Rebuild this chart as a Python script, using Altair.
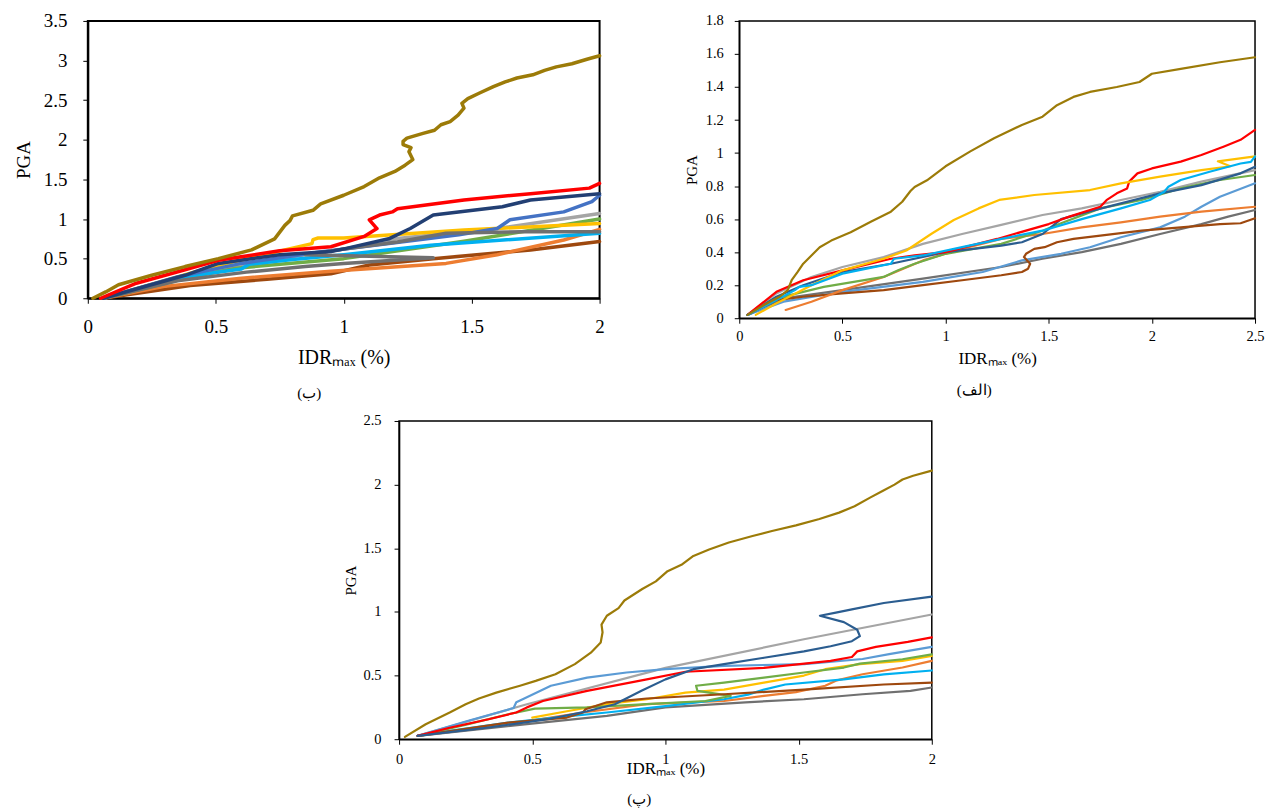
import altair as alt
import pandas as pd

FONT = "Liberation Serif, Times New Roman, serif"

# ---------------- Panel (ب) : top-left ----------------
b_olive_x = [0.02, 0.07, 0.12, 0.25, 0.38, 0.51, 0.64, 0.73, 0.77, 0.79, 0.80, 0.88, 0.91, 1.0, 1.08, 1.14, 1.2, 1.24, 1.27, 1.255,
             1.263, 1.232, 1.232, 1.247, 1.31, 1.355, 1.38, 1.416, 1.447, 1.47, 1.462, 1.485, 1.531, 1.585, 1.631, 1.677, 1.739, 1.785, 1.831, 1.892,
             1.954, 2.0]
b_olive_y = [0, 0.08, 0.17, 0.29, 0.40, 0.50, 0.61, 0.75, 0.92, 0.98, 1.04, 1.11, 1.19, 1.30, 1.41, 1.52, 1.60, 1.68, 1.75, 1.85,
             1.90, 1.94, 1.98, 2.02, 2.08, 2.12, 2.19, 2.23, 2.31, 2.40, 2.46, 2.52, 2.59, 2.67, 2.73, 2.78, 2.82, 2.875, 2.92, 2.96,
             3.02, 3.06]
b_red_x = [0.05, 0.19, 0.38, 0.51, 0.75, 0.95, 1.08, 1.13, 1.10, 1.14, 1.19, 1.21, 1.47, 1.73, 1.96, 2.0]
b_red_y = [0, 0.19, 0.36, 0.48, 0.60, 0.65, 0.78, 0.88, 0.99, 1.05, 1.09, 1.13, 1.24, 1.32, 1.39, 1.45]
b_navy_x = [0.06, 0.38, 0.51, 0.75, 0.95, 1.01, 1.18, 1.26, 1.35, 1.62, 1.73, 2.0]
b_navy_y = [0, 0.29, 0.44, 0.55, 0.59, 0.63, 0.755, 0.88, 1.05, 1.155, 1.24, 1.32]
b_blue_x = [0.06, 0.35, 0.6, 0.9, 1.2, 1.45, 1.6, 1.65, 1.86, 1.97, 2.0]
b_blue_y = [0, 0.27, 0.44, 0.58, 0.70, 0.80, 0.88, 0.99, 1.09, 1.22, 1.30]
b_lgray_x = [0.06, 0.4, 0.7, 1.0, 1.21, 1.6, 2.0]
b_lgray_y = [0, 0.3, 0.48, 0.62, 0.755, 0.88, 1.07]
b_yellow_x = [0.06, 0.49, 0.876, 0.88, 0.90, 1.0, 1.47, 2.0]
b_yellow_y = [0, 0.40, 0.69, 0.74, 0.76, 0.76, 0.86, 0.944]
b_green_x = [0.06, 0.38, 0.58, 1.0, 1.47, 2.0]
b_green_y = [0, 0.25, 0.38, 0.50, 0.72, 1.0]
b_cyan_x = [0.06, 0.4, 0.6, 0.63, 0.8, 1.0, 1.34, 2.0]
b_cyan_y = [0, 0.28, 0.37, 0.43, 0.49, 0.55, 0.67, 0.82]
b_dgray_x = [0.06, 0.35, 0.62, 0.85, 1.0, 1.35, 1.1, 0.85, 1.0, 1.21, 1.40, 1.7, 2.0]
b_dgray_y = [0, 0.22, 0.33, 0.40, 0.44, 0.51, 0.53, 0.55, 0.62, 0.71, 0.82, 0.84, 0.84]
b_orange_x = [0.06, 0.3, 0.59, 0.95, 1.4, 1.6, 1.86, 2.0]
b_orange_y = [0, 0.15, 0.25, 0.34, 0.44, 0.55, 0.735, 0.87]
b_brown_x = [0.06, 0.4, 0.7, 0.95, 1.10, 1.35, 1.73, 2.0]
b_brown_y = [0, 0.16, 0.24, 0.31, 0.42, 0.50, 0.61, 0.715]

# ---------------- Panel (الف) : top-right ----------------
a_olive_x = [0.04, 0.12, 0.196, 0.235, 0.254, 0.283, 0.31, 0.35, 0.39, 0.446, 0.54, 0.64, 0.735, 0.79, 0.83, 0.85, 0.91, 1.0, 1.12, 1.235,
             1.37, 1.47, 1.54, 1.62, 1.70, 1.83, 1.94, 2.0, 2.14, 2.33, 2.5]
a_olive_y = [0.02, 0.08, 0.13, 0.17, 0.23, 0.28, 0.33, 0.38, 0.43, 0.47, 0.52, 0.585, 0.645, 0.705, 0.77, 0.795, 0.835, 0.92, 1.01, 1.09,
             1.17, 1.22, 1.29, 1.34, 1.37, 1.40, 1.43, 1.48, 1.51, 1.55, 1.58]
a_red_x = [0.04, 0.18, 0.31, 0.50, 0.735, 0.85, 1.0, 1.25, 1.5, 1.6, 1.75, 1.78, 1.83, 1.88, 1.89, 1.93, 2.0, 2.14, 2.24, 2.35, 2.43, 2.5]
a_red_y = [0.02, 0.16, 0.23, 0.29, 0.36, 0.38, 0.40, 0.48, 0.57, 0.615, 0.675, 0.715, 0.756, 0.786, 0.827, 0.877, 0.907, 0.948, 0.988, 1.04, 1.08, 1.14]
a_yellow_x = [0.08, 0.18, 0.35, 0.5, 0.7, 0.81, 0.93, 1.04, 1.16, 1.26, 1.43, 1.70, 1.85, 2.04, 2.24, 2.38, 2.32, 2.5]
a_yellow_y = [0.02, 0.09, 0.2, 0.29, 0.36, 0.41, 0.51, 0.595, 0.665, 0.716, 0.746, 0.776, 0.816, 0.857, 0.897, 0.92, 0.95, 0.98]
a_cyan_x = [0.04, 0.18, 0.27, 0.29, 0.35, 0.5, 0.735, 0.75, 0.89, 1.08, 1.27, 1.47, 1.66, 1.85, 1.99, 2.06, 2.08, 2.14, 2.28, 2.43, 2.48, 2.5]
a_cyan_y = [0.02, 0.11, 0.17, 0.19, 0.2, 0.27, 0.33, 0.36, 0.38, 0.43, 0.48, 0.53, 0.6, 0.665, 0.716, 0.766, 0.796, 0.837, 0.887, 0.937, 0.947, 0.98]
a_navy_x = [0.04, 0.18, 0.31, 0.5, 0.735, 1.0, 1.27, 1.37, 1.47, 1.56, 1.66, 1.85, 2.04, 2.24, 2.43, 2.5]
a_navy_y = [0.02, 0.13, 0.2, 0.28, 0.33, 0.40, 0.44, 0.46, 0.51, 0.6, 0.635, 0.695, 0.756, 0.806, 0.877, 0.917]
a_lgray_x = [0.04, 0.18, 0.35, 0.5, 0.7, 0.89, 1.08, 1.27, 1.47, 1.66, 1.85, 2.04, 2.24, 2.5]
a_lgray_y = [0.02, 0.15, 0.25, 0.31, 0.37, 0.45, 0.51, 0.565, 0.625, 0.665, 0.716, 0.766, 0.827, 0.897]
a_green_x = [0.04, 0.18, 0.41, 0.7, 0.77, 0.85, 1.0, 1.27, 1.47, 1.56, 1.75, 1.95, 2.14, 2.33, 2.5]
a_green_y = [0.02, 0.12, 0.19, 0.25, 0.29, 0.33, 0.39, 0.45, 0.53, 0.575, 0.665, 0.716, 0.786, 0.837, 0.867]
a_orange_x = [0.225, 0.35, 0.5, 0.7, 0.89, 1.08, 1.27, 1.47, 1.66, 1.85, 2.04, 2.24, 2.5]
a_orange_y = [0.05, 0.10, 0.17, 0.25, 0.35, 0.42, 0.48, 0.51, 0.55, 0.58, 0.615, 0.645, 0.675]
a_lblue_x = [0.04, 0.215, 0.5, 0.89, 1.18, 1.37, 1.56, 1.7, 1.85, 2.04, 2.16, 2.24, 2.33, 2.5]
a_lblue_y = [0.02, 0.10, 0.16, 0.22, 0.28, 0.35, 0.39, 0.43, 0.49, 0.55, 0.615, 0.675, 0.735, 0.817]
a_dgray_x = [0.04, 0.215, 0.5, 0.89, 1.27, 1.47, 1.66, 1.85, 2.04, 2.24, 2.37, 2.5]
a_dgray_y = [0.02, 0.12, 0.17, 0.24, 0.31, 0.36, 0.40, 0.45, 0.51, 0.57, 0.615, 0.655]
a_brown_x = [0.04, 0.18, 0.31, 0.5, 0.7, 0.89, 1.08, 1.27, 1.37, 1.40, 1.41, 1.38, 1.39, 1.43, 1.48, 1.54, 1.62, 1.75, 1.95, 2.14,
             2.33, 2.43, 2.5]
a_brown_y = [0.02, 0.11, 0.13, 0.15, 0.17, 0.2, 0.23, 0.26, 0.28, 0.30, 0.33, 0.37, 0.39, 0.42, 0.43, 0.46, 0.48, 0.5, 0.53, 0.55,
             0.57, 0.575, 0.605]

# ---------------- Panel (پ) : bottom ----------------
p_olive_x = [0.022, 0.1, 0.19, 0.25, 0.3, 0.365, 0.454, 0.513, 0.587, 0.66, 0.72, 0.757, 0.764, 0.76, 0.78, 0.824, 0.846, 0.913, 0.964, 1.008,
             1.06, 1.105, 1.164, 1.238, 1.327, 1.4, 1.49, 1.578, 1.652, 1.71, 1.77, 1.815, 1.86, 1.89, 1.93, 2.0]
p_olive_y = [0.018, 0.118, 0.21, 0.275, 0.32, 0.366, 0.42, 0.458, 0.51, 0.59, 0.68, 0.76, 0.84, 0.90, 0.97, 1.03, 1.09, 1.18, 1.24, 1.32,
             1.37, 1.44, 1.49, 1.545, 1.596, 1.636, 1.68, 1.73, 1.78, 1.83, 1.9, 1.95, 2.0, 2.04, 2.07, 2.11]
p_navy_x = [0.07, 0.336, 0.558, 0.706, 0.81, 0.91, 1.0, 1.105, 1.22, 1.37, 1.52, 1.62, 1.70, 1.73, 1.72, 1.67, 1.58, 1.64, 1.70, 1.82, 2.0]
p_navy_y = [0.026, 0.092, 0.157, 0.22, 0.275, 0.38, 0.47, 0.55, 0.59, 0.64, 0.69, 0.73, 0.77, 0.81, 0.86, 0.92, 0.97, 0.995, 1.02, 1.07, 1.12]
p_lgray_x = [0.07, 0.48, 1.0, 1.52, 2.0]
p_lgray_y = [0.026, 0.275, 0.56, 0.785, 0.98]
p_red_x = [0.07, 0.19, 0.336, 0.44, 0.48, 0.54, 0.706, 0.93, 1.075, 1.37, 1.62, 1.70, 1.72, 1.79, 1.91, 2.0]
p_red_y = [0.026, 0.09, 0.157, 0.21, 0.25, 0.30, 0.38, 0.47, 0.53, 0.56, 0.615, 0.646, 0.69, 0.725, 0.765, 0.80]
p_lblue_x = [0.07, 0.26, 0.43, 0.44, 0.47, 0.57, 0.706, 0.854, 1.0, 1.22, 1.52, 1.74, 1.84, 2.0]
p_lblue_y = [0.026, 0.145, 0.245, 0.29, 0.32, 0.42, 0.484, 0.524, 0.55, 0.576, 0.59, 0.63, 0.668, 0.725]
p_green_x = [0.07, 0.26, 0.41, 0.51, 0.706, 0.93, 1.15, 1.245, 1.12, 1.115, 1.22, 1.37, 1.52, 1.67, 1.73, 1.89, 2.0]
p_green_y = [0.026, 0.118, 0.196, 0.24, 0.25, 0.275, 0.30, 0.34, 0.38, 0.42, 0.445, 0.484, 0.524, 0.563, 0.594, 0.628, 0.667]
p_yellow_x = [0.5, 0.63, 0.78, 0.93, 1.075, 1.22, 1.37, 1.52, 1.6, 1.73, 1.89, 2.0]
p_yellow_y = [0.17, 0.22, 0.275, 0.314, 0.366, 0.39, 0.445, 0.5, 0.55, 0.59, 0.615, 0.654]
p_cyan_x = [0.07, 0.19, 0.41, 0.63, 0.78, 1.0, 1.22, 1.31, 1.37, 1.45, 1.67, 1.82, 2.0]
p_cyan_y = [0.026, 0.065, 0.13, 0.18, 0.21, 0.26, 0.314, 0.35, 0.39, 0.43, 0.47, 0.51, 0.54]
p_orange_x = [0.07, 0.41, 0.69, 0.93, 1.22, 1.37, 1.49, 1.6, 1.64, 1.74, 1.89, 2.0]
p_orange_y = [0.026, 0.118, 0.21, 0.275, 0.30, 0.34, 0.37, 0.42, 0.46, 0.51, 0.563, 0.615]
p_brown_x = [0.07, 0.41, 0.63, 0.69, 0.7, 0.78, 0.93, 1.22, 1.52, 1.82, 2.0]
p_brown_y = [0.026, 0.13, 0.17, 0.21, 0.235, 0.29, 0.32, 0.353, 0.39, 0.43, 0.445]
p_dgray_x = [0.07, 0.48, 0.78, 1.0, 1.3, 1.52, 1.74, 1.92, 2.0]
p_dgray_y = [0.026, 0.118, 0.183, 0.25, 0.29, 0.314, 0.353, 0.38, 0.406]

# colours (Excel-like palette)
COL = {
    "olive": "#9C7B08", "red": "#FF0000", "navyb": "#223F73", "navy": "#2B5D90",
    "blue": "#4472C4", "lgray": "#A5A5A5", "yellow": "#FFC000", "green": "#70AD47",
    "cyan": "#00B0F0", "orange": "#ED7D31", "brown": "#9E480E", "dgray": "#707070",
    "lblue": "#5B9BD5",
}

b_series = [
    ("brown", b_brown_x, b_brown_y), ("orange", b_orange_x, b_orange_y),
    ("lgray", b_lgray_x, b_lgray_y), ("green", b_green_x, b_green_y),
    ("cyan", b_cyan_x, b_cyan_y), ("yellow", b_yellow_x, b_yellow_y),
    ("blue", b_blue_x, b_blue_y), ("dgray", b_dgray_x, b_dgray_y),
    ("navyb", b_navy_x, b_navy_y), ("red", b_red_x, b_red_y),
    ("olive", b_olive_x, b_olive_y),
]
a_series = [
    ("dgray", a_dgray_x, a_dgray_y), ("lblue", a_lblue_x, a_lblue_y),
    ("brown", a_brown_x, a_brown_y), ("orange", a_orange_x, a_orange_y),
    ("lgray", a_lgray_x, a_lgray_y), ("green", a_green_x, a_green_y),
    ("navy", a_navy_x, a_navy_y), ("red", a_red_x, a_red_y),
    ("yellow", a_yellow_x, a_yellow_y), ("cyan", a_cyan_x, a_cyan_y),
    ("olive", a_olive_x, a_olive_y),
]
p_series = [
    ("dgray", p_dgray_x, p_dgray_y), ("lgray", p_lgray_x, p_lgray_y),
    ("orange", p_orange_x, p_orange_y), ("cyan", p_cyan_x, p_cyan_y),
    ("yellow", p_yellow_x, p_yellow_y), ("green", p_green_x, p_green_y),
    ("brown", p_brown_x, p_brown_y), ("lblue", p_lblue_x, p_lblue_y),
    ("red", p_red_x, p_red_y), ("navy", p_navy_x, p_navy_y),
    ("olive", p_olive_x, p_olive_y),
]


def build(series):
    rows = []
    for k, (name, xs, ys) in enumerate(series):
        for i, (x, y) in enumerate(zip(xs, ys)):
            rows.append({"s": f"{k:02d}_{name}", "c": COL[name], "x": x, "y": y, "i": i})
    return pd.DataFrame(rows)


def ticks(maxv, step):
    n = int(round(maxv / step))
    return [round(k * step, 3) for k in range(n + 1)]


def panel(series, xmax, xstep, ymax, ystep, w, h, sw, lfs, xtfs, ytfs, caption,
          ylp, ytp, xlp, xtp, cap_off, frame_w):
    df = build(series)
    common = dict(grid=False, domainColor="black", tickColor="black", labelColor="black",
                  titleColor="black", labelFont=FONT, titleFont=FONT, labelFontSize=lfs,
                  titleFontWeight="normal", tickSize=5,
                  domainWidth=frame_w, tickWidth=1, labelFlush=False, labelOverlap=False, format="~g")
    return alt.Chart(df).mark_line(strokeWidth=sw, strokeJoin="round", strokeCap="round").encode(
        x=alt.X("x:Q", scale=alt.Scale(domain=[0, xmax], nice=False, zero=True),
                axis=alt.Axis(values=ticks(xmax, xstep), title="IDRₘₐₓ (%)", titleFontSize=xtfs,
                              labelPadding=xlp, titlePadding=xtp, **common)),
        y=alt.Y("y:Q", scale=alt.Scale(domain=[0, ymax], nice=False, zero=True),
                axis=alt.Axis(values=ticks(ymax, ystep), title="PGA", titleFontSize=ytfs,
                              labelPadding=ylp, titlePadding=ytp, **common)),
        color=alt.Color("c:N", scale=None, legend=None),
        detail="s:N",
        order=alt.Order("i:Q"),
    ).properties(
        width=w, height=h,
        view=alt.ViewBackground(stroke="black", strokeWidth=frame_w),
        title=alt.TitleParams(caption, orient="bottom", frame="bounds", anchor="middle",
                              font=FONT, fontSize=15, fontWeight="normal", color="black", offset=cap_off),
    )


chart_b = panel(b_series, 2, 0.5, 3.5, 0.5, 513, 278, 3.5, 19, 20, 19, "(ب)",
                ylp=16, ytp=10, xlp=14, xtp=11, cap_off=19, frame_w=2)
chart_a = panel(a_series, 2.5, 0.5, 1.8, 0.2, 517, 298, 2.2, 14.5, 17, 15, "(الف)",
                ylp=11, ytp=6, xlp=6, xtp=8, cap_off=16, frame_w=1.5)
chart_p = panel(p_series, 2, 0.5, 2.5, 0.5, 534, 319, 2.2, 14.5, 17, 15, "(پ)",
                ylp=13, ytp=5, xlp=8, xtp=-5, cap_off=15, frame_w=1.5)

# invisible spacer that pushes the bottom panel towards the middle of the page
spacer = alt.Chart(pd.DataFrame({"x": [0]})).mark_point(opacity=0).encode(
    x=alt.X("x:Q", axis=None), y=alt.Y("x:Q", axis=None)
).properties(width=255, height=1, view=alt.ViewBackground(stroke=None))

chart = alt.vconcat(
    alt.hconcat(chart_b, chart_a, spacing=78),
    alt.hconcat(spacer, chart_p, spacing=0),
    spacing=10,
).properties(
    padding={"left": 5, "top": 2, "right": 0, "bottom": 0}
).configure(background="white")

chart.save("out.html", embed_options={"renderer": "svg", "actions": False})
